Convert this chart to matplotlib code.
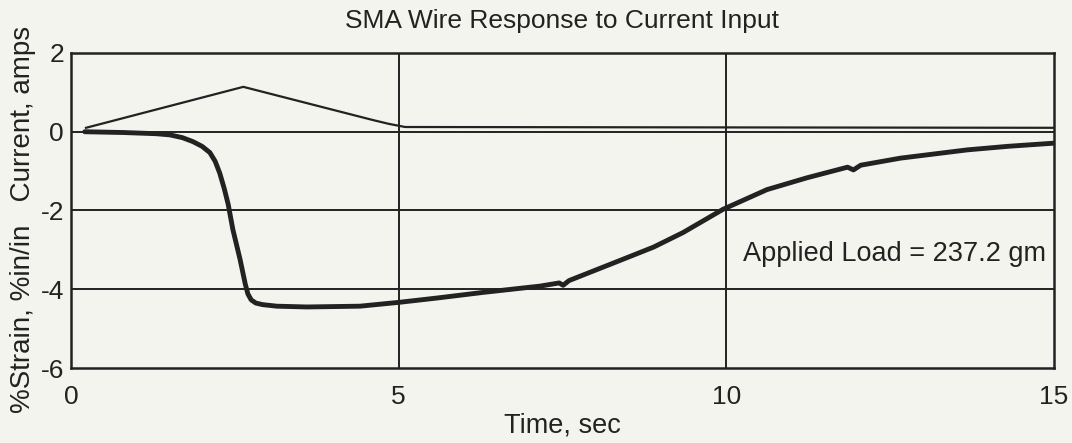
"""SMA wire strain and current versus time."""

import matplotlib.pyplot as plt

plt.rcParams["font.family"] = ["Liberation Sans", "DejaVu Sans"]
plt.rcParams["axes.unicode_minus"] = False

# current input, amps
current_t = [0.23, 2.63, 4.6, 4.85, 5.1, 15.0]
current_amps = [0.1, 1.14, 0.3, 0.2, 0.12, 0.1]

# strain response, %in/in
strain_t = [0.21, 0.8, 1.3, 1.51, 1.7, 1.86, 2.0, 2.12, 2.2, 2.27, 2.34,
            2.40, 2.47, 2.58, 2.66, 2.70, 2.75, 2.82, 2.92, 3.14, 3.6, 4.41,
            5.02, 5.6, 6.29, 7.16, 7.45, 7.51, 7.6, 8.33, 8.89, 9.34, 9.95,
            10.62, 11.23, 11.85, 11.94, 12.05, 12.66, 13.68, 14.3, 15.0]
strain_pct = [0.0, -0.02, -0.05, -0.08, -0.15, -0.25, -0.37, -0.53, -0.75,
              -1.05, -1.45, -1.85, -2.48, -3.24, -3.87, -4.12, -4.27, -4.35,
              -4.39, -4.43, -4.45, -4.43, -4.33, -4.22, -4.08, -3.92, -3.84,
              -3.9, -3.78, -3.3, -2.93, -2.56, -1.97, -1.47, -1.17, -0.9,
              -0.97, -0.85, -0.67, -0.46, -0.37, -0.29]

x_ticks = [0, 5, 10, 15]
y_ticks = [-6, -4, -2, 0, 2]
bg = "#f4f4ef"
ink = "#222222"

fig = plt.figure(figsize=(10.72, 4.43), dpi=100, facecolor=bg)
ax = fig.add_axes([0.0662, 0.1693, 0.917, 0.7111], facecolor=bg)

for v in [5, 10]:
    ax.axvline(v, color=ink, lw=1.4, zorder=1)
for v in [0, -2, -4]:
    ax.axhline(v, color=ink, lw=1.4, zorder=1)

ax.plot(current_t, current_amps, color=ink, lw=1.6, zorder=2)
ax.plot(strain_t, strain_pct, color=ink, lw=3.5, zorder=3,
        solid_joinstyle="round", solid_capstyle="round")

ax.set_xlim(0, 15)
ax.set_ylim(-6, 2)
ax.set_xticks(x_ticks)
ax.set_yticks(y_ticks)
ax.tick_params(axis="both", length=0, labelsize=19, colors=ink)
ax.tick_params(axis="x", pad=12)
ax.tick_params(axis="y", pad=5)
for s in ax.spines.values():
    s.set_linewidth(1.8)
    s.set_color(ink)

ax.set_title("SMA Wire Response to Current Input", fontsize=19,
             color=ink, pad=18)
ax.set_xlabel("Time, sec", fontsize=19.5, color=ink, labelpad=3)
fig.text(0.021, 0.505, "%Strain, %in/in   Current, amps", rotation=90,
         ha="center", va="center", fontsize=20, color=ink)
ax.text(10.25, -3.1, "Applied Load = 237.2 gm", fontsize=19.5,
        color=ink, va="center")

fig.savefig("out.png", dpi=100, facecolor=bg)
